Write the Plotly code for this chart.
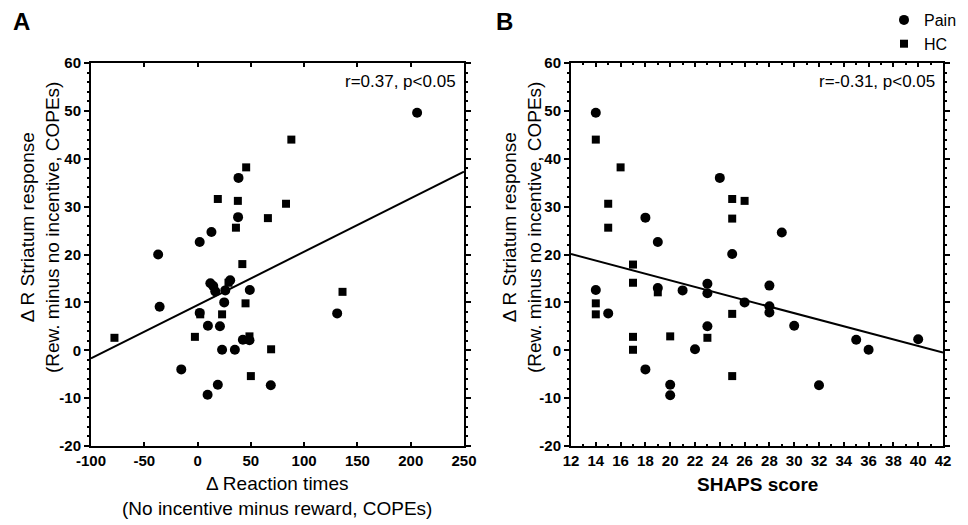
import plotly.graph_objects as go

# ---------------- data ----------------
# Panel A: delta reaction times vs delta R striatum response
a_pain_x = [206, 38.4, 38, 13, 2, -37, 12, 14.7, 16.6, 30.6, 26, 49, -35.6, 2, 25, 131,
            9.7, 21, 42.5, 48.7, 23, 35, -15.3, 19, 68.7, 9.4]
a_pain_y = [49.6, 36, 27.8, 24.7, 22.6, 20, 14.0, 13.4, 12.3, 14.6, 12.5, 12.6, 9.1, 7.8, 10, 7.7,
            5.1, 5, 2.2, 2.1, 0.1, 0.1, -4, -7.2, -7.3, -9.3]
a_hc_x = [88, 45.6, 19, 37.8, 83, 66, 36, 42, 29, 136, 45, 23, 2.5, -78, -2.5, 48.7, 69, 50]
a_hc_y = [44, 38.2, 31.6, 31.2, 30.6, 27.6, 25.6, 18, 14.1, 12.2, 9.8, 7.5, 7.5, 2.6, 2.8, 2.9, 0.2, -5.4]
a_fit_x = [-100, 250]
a_fit_y = [-1.7, 37.3]

# Panel B: SHAPS score vs delta R striatum response
b_pain_x = [14, 24, 18, 29, 19, 25, 14, 19, 21, 23, 23, 28, 26, 28, 28, 15, 30, 23, 35, 40,
            22, 36, 18, 20, 20, 32]
b_pain_y = [49.6, 36, 27.7, 24.6, 22.6, 20.1, 12.6, 13, 12.5, 13.9, 11.9, 13.5, 10, 9.2, 7.9, 7.7,
            5.1, 5, 2.2, 2.3, 0.2, 0.1, -4, -7.2, -9.4, -7.3]
b_hc_x = [14, 16, 15, 25, 26, 25, 15, 17, 17, 19, 14, 14, 25, 17, 20, 23, 17, 25]
b_hc_y = [44, 38.2, 30.6, 31.6, 31.2, 27.5, 25.6, 17.9, 14.1, 12.1, 9.8, 7.5, 7.6, 2.8, 2.9, 2.6, 0.1, -5.4]
b_fit_x = [12, 42]
b_fit_y = [20.1, -0.5]

a_xticks = [-100, -50, 0, 50, 100, 150, 200, 250]
b_xticks = list(range(12, 43, 2))
y_ticks = [-20, -10, 0, 10, 20, 30, 40, 50, 60]

stats_a = "r=0.37, p<0.05"
stats_b = "r=-0.31, p<0.05"
y_title = "Δ R Striatum response<br>(Rew. minus no incentive, COPEs)"
a_x_title = "Δ Reaction times<br>(No incentive minus reward, COPEs)"
b_x_title = "SHAPS score"

# ---------------- figure ----------------
# the page body has an 8px margin, so the figure is drawn 8px smaller and
# positions (measured in window pixels) are shifted by that offset
OFF = 8
W, H = 968 - OFF, 525 - OFF
FONT = "Liberation Sans, Arial, sans-serif"


def px(x):
    return (x - OFF) / W


def py(y):
    return 1 - (y - OFF) / H


fig = go.Figure()


def add_panel(xa, ya, hx, hy, ppx, ppy, fx, fy, show):
    fig.add_trace(go.Scatter(x=hx, y=hy, mode="markers", name="HC", legendrank=2,
                             marker=dict(symbol="square", size=8, color="black"),
                             xaxis=xa, yaxis=ya, showlegend=show))
    fig.add_trace(go.Scatter(x=ppx, y=ppy, mode="markers", name="Pain", legendrank=1,
                             marker=dict(symbol="circle", size=10, color="black"),
                             xaxis=xa, yaxis=ya, showlegend=show))
    fig.add_trace(go.Scatter(x=fx, y=fy, mode="lines", line=dict(color="black", width=2),
                             xaxis=xa, yaxis=ya, showlegend=False, hoverinfo="skip"))


add_panel("x", "y", a_hc_x, a_hc_y, a_pain_x, a_pain_y, a_fit_x, a_fit_y, True)
add_panel("x2", "y2", b_hc_x, b_hc_y, b_pain_x, b_pain_y, b_fit_x, b_fit_y, False)

tickfont = dict(family=FONT, size=15, color="black", weight="bold")


def xaxis(dom, rng, ticks, minor_dtick, anchor):
    d = dict(domain=dom, range=rng, tickvals=ticks, ticktext=[str(t) for t in ticks],
             showline=True, linecolor="black", linewidth=2, mirror="ticks",
             ticks="inside", ticklen=4, tickcolor="black", tickwidth=1.5,
             showgrid=False, zeroline=False, tickfont=tickfont, anchor=anchor,
             automargin=False)
    if minor_dtick:
        d["minor"] = dict(dtick=minor_dtick, ticks="inside", ticklen=2, tickcolor="black", showgrid=False)
    return d


def yaxis(rng, anchor):
    return dict(domain=[py(446), py(63)], range=rng, tickvals=y_ticks,
                ticktext=[str(t) for t in y_ticks],
                showline=True, linecolor="black", linewidth=2, mirror="ticks",
                ticks="outside", ticklen=5, tickcolor="black", tickwidth=1.5,
                minor=dict(dtick=2, ticks="outside", ticklen=2, tickcolor="black", showgrid=False),
                showgrid=False, zeroline=False, tickfont=tickfont, anchor=anchor,
                automargin=False)


fig.update_layout(
    width=W, height=H, margin=dict(l=0, r=0, t=0, b=0, autoexpand=False),
    paper_bgcolor="white", plot_bgcolor="white",
    font=dict(family=FONT, color="black"),
    xaxis=xaxis([px(91), px(464)], [-100, 250], a_xticks, None, "y"),
    xaxis2=xaxis([px(571), px(943)], [12, 42], b_xticks, 1, "y2"),
    yaxis=yaxis([-20, 60], "x"),
    yaxis2=yaxis([-20, 60], "x2"),
    legend=dict(x=px(884), y=py(3), xanchor="left", yanchor="top",
                font=dict(family=FONT, size=16, color="black"),
                bgcolor="rgba(0,0,0,0)", itemsizing="trace", tracegroupgap=0),
)

ann = []
# stats
ann.append(dict(text=stats_a, x=px(458), y=py(82), xref="paper", yref="paper",
                xanchor="right", yanchor="middle", showarrow=False,
                font=dict(family=FONT, size=17, color="black")))
ann.append(dict(text=stats_b, x=px(937), y=py(82), xref="paper", yref="paper",
                xanchor="right", yanchor="middle", showarrow=False,
                font=dict(family=FONT, size=17, color="black")))
# panel letters
ann.append(dict(text="<b>A</b>", x=px(21), y=py(21), xref="paper", yref="paper",
                xanchor="center", yanchor="middle", showarrow=False,
                font=dict(family=FONT, size=24, color="black")))
ann.append(dict(text="<b>B</b>", x=px(504), y=py(21), xref="paper", yref="paper",
                xanchor="center", yanchor="middle", showarrow=False,
                font=dict(family=FONT, size=24, color="black")))
# y titles
for cx in (40, 522):
    ann.append(dict(text=y_title, x=px(cx), y=py(228), xref="paper", yref="paper",
                    xanchor="center", yanchor="middle", textangle=-90, showarrow=False,
                    font=dict(family=FONT, size=19, color="black")))
# x titles
ann.append(dict(text=a_x_title, x=px(277), y=py(496), xref="paper", yref="paper",
                xanchor="center", yanchor="middle", showarrow=False,
                font=dict(family=FONT, size=19, color="black")))
ann.append(dict(text=b_x_title, x=px(757), y=py(484), xref="paper", yref="paper",
                xanchor="center", yanchor="middle", showarrow=False,
                font=dict(family=FONT, size=19, color="black", weight="bold")))
fig.update_layout(annotations=ann)

fig.write_html("out.html")
